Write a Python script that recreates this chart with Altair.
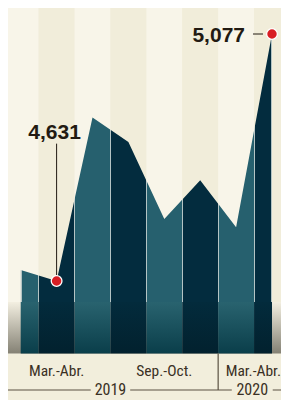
import altair as alt
import pandas as pd

# ---- data ----
periods = ["Ene.-Feb.", "Mar.-Abr.", "May.-Jun.", "Jul.-Ago.",
           "Sep.-Oct.", "Nov.-Dic.", "Ene.-Feb.", "Mar.-Abr."]
years = ["2019", "2019", "2019", "2019", "2019", "2019", "2020", "2020"]
values = [4651, 4631, 4926, 4882, 4743, 4813, 4728, 5077]
shown_labels = [1, 4, 7]       # periods whose label is printed
highlight = [1, 7]             # periods marked with a red dot
year_names = ["2019", "2020"]

# ---- styling ----
TEAL = "#26606e"
DARK = "#032c3e"
LINE_LIGHT = "#b4c4c4"
BG = "#f2eedc"
BAND_A = "#f8f5e9"
BAND_B = "#f1edda"
INK = "#221a12"
LABEL_INK = "#3a3024"
RED = "#d81e24"
BASE = 4500          # bottom of the coloured columns
STRIP_TOP = 4593     # top of the shaded strip at the bottom
Y_MIN, Y_MAX = 4416.1, 5138.4
X_MIN, X_MAX = -0.5766, 7.2507
LABEL_FONT = "Roboto Condensed, Liberation Sans Narrow, Arial Narrow, Roboto, sans-serif"
NUM_FONT = "Liberation Sans, Arial, sans-serif"

xs = alt.Scale(domain=[X_MIN, X_MAX], nice=False, zero=False)
ys = alt.Scale(domain=[Y_MIN, Y_MAX], nice=False, zero=False)

n = len(values)
df = pd.DataFrame({"i": list(range(n)), "v": values, "period": periods,
                   "year": years, "base": [STRIP_TOP] * n})

# background columns
bg = pd.DataFrame({"k": list(range(-1, n + 1))})
bg["lo"] = bg["k"] - 0.5
bg["hi"] = bg["k"] + 0.5
bg["shade"] = ["a" if k % 2 == 0 else "b" for k in bg["k"]]
bg["y0"] = BASE
bg["y1"] = Y_MAX

background = alt.Chart(bg).mark_rect().encode(
    x=alt.X("lo:Q", scale=xs, axis=None), x2="hi:Q",
    y=alt.Y("y0:Q", scale=ys, axis=None), y2="y1:Q",
    color=alt.Color("shade:N", scale=alt.Scale(domain=["a", "b"], range=[BAND_A, BAND_B]), legend=None),
)

# area with alternating column colours (hard-stop gradient) and thin light separators
w = 0.002
stops = [alt.GradientStop(offset=0, color=LINE_LIGHT), alt.GradientStop(offset=2 * w, color=LINE_LIGHT),
         alt.GradientStop(offset=2 * w, color=TEAL)]
for k in range(n - 1):
    b = (k + 0.5) / (n - 1)
    c_cur = TEAL if k % 2 == 0 else DARK
    c_next = TEAL if (k + 1) % 2 == 0 else DARK
    stops += [alt.GradientStop(offset=b - w, color=c_cur), alt.GradientStop(offset=b - w, color=LINE_LIGHT),
              alt.GradientStop(offset=b + w, color=LINE_LIGHT), alt.GradientStop(offset=b + w, color=c_next)]
last = TEAL if (n - 1) % 2 == 0 else DARK
stops += [alt.GradientStop(offset=1 - 2 * w, color=last), alt.GradientStop(offset=1 - 2 * w, color=LINE_LIGHT),
          alt.GradientStop(offset=1, color=LINE_LIGHT)]

area = alt.Chart(df).mark_area(
    fill=alt.Gradient(gradient="linear", x1=0, x2=1, y1=0, y2=0, stops=stops),
    interpolate="linear",
).encode(
    x=alt.X("i:Q", scale=xs, axis=None),
    y=alt.Y("v:Q", scale=ys, axis=None),
    y2="base:Q",
)

# shaded strip at the bottom
strip_bg = pd.DataFrame({"lo": [-1.5], "hi": [n + 0.5], "y0": [BASE], "y1": [STRIP_TOP]})
strip_back = alt.Chart(strip_bg).mark_rect(
    fill=alt.Gradient(gradient="linear", x1=0, x2=0, y1=0, y2=1,
                      stops=[alt.GradientStop(offset=0, color="#f3efe1"),
                             alt.GradientStop(offset=1, color="#848174")])
).encode(x=alt.X("lo:Q", scale=xs, axis=None), x2="hi:Q",
         y=alt.Y("y0:Q", scale=ys, axis=None), y2="y1:Q")

cols = pd.DataFrame({"k": list(range(n))})
cols["lo"] = [max(k - 0.5, 0) for k in cols["k"]]
cols["hi"] = [min(k + 0.5, n - 1) for k in cols["k"]]
cols["y0"] = BASE
cols["y1"] = STRIP_TOP
cols["even"] = cols["k"] % 2 == 0

strip_teal = alt.Chart(cols[cols["even"]]).mark_rect(
    fill=alt.Gradient(gradient="linear", x1=0, x2=0, y1=0, y2=1,
                      stops=[alt.GradientStop(offset=0, color="#29636f"),
                             alt.GradientStop(offset=1, color="#0a3e4a")])
).encode(x=alt.X("lo:Q", scale=xs, axis=None), x2="hi:Q",
         y=alt.Y("y0:Q", scale=ys, axis=None), y2="y1:Q")

strip_dark = alt.Chart(cols[~cols["even"]]).mark_rect(
    fill=alt.Gradient(gradient="linear", x1=0, x2=0, y1=0, y2=1,
                      stops=[alt.GradientStop(offset=0, color="#032b3c"),
                             alt.GradientStop(offset=1, color="#02212e")])
).encode(x=alt.X("lo:Q", scale=xs, axis=None), x2="hi:Q",
         y=alt.Y("y0:Q", scale=ys, axis=None), y2="y1:Q")

# annotations
hl = df[df["i"].isin(highlight)].copy()
first = hl[hl["i"] == highlight[0]].copy()
first["top"] = first["v"] + 248
lastp = hl[hl["i"] == highlight[1]].copy()

lead1 = alt.Chart(first).mark_rule(color=INK, strokeWidth=1).encode(
    x=alt.X("i:Q", scale=xs, axis=None), y=alt.Y("v:Q", scale=ys, axis=None), y2="top:Q")
txt1 = alt.Chart(first).mark_text(font=NUM_FONT, fontWeight="bold", fontSize=21,
                                  color=INK, align="center", baseline="alphabetic", dy=-5, dx=-2).encode(
    x=alt.X("i:Q", scale=xs, axis=None), y=alt.Y("top:Q", scale=ys, axis=None),
    text=alt.Text("v:Q", format=","))

lead2 = alt.Chart(lastp).mark_rule(color=INK, strokeWidth=1, xOffset=-19, x2Offset=-9).encode(
    x=alt.X("i:Q", scale=xs, axis=None), x2="i:Q", y=alt.Y("v:Q", scale=ys, axis=None))
txt2 = alt.Chart(lastp).mark_text(font=NUM_FONT, fontWeight="bold", fontSize=21,
                                  color=INK, align="right", baseline="alphabetic", dx=-27, dy=7.5).encode(
    x=alt.X("i:Q", scale=xs, axis=None), y=alt.Y("v:Q", scale=ys, axis=None),
    text=alt.Text("v:Q", format=","))

dots = alt.Chart(hl).mark_circle(size=115, color=RED, opacity=1, stroke="white", strokeWidth=1.3).encode(
    x=alt.X("i:Q", scale=xs, axis=None), y=alt.Y("v:Q", scale=ys, axis=None))

# x labels
lab = df[df["i"].isin(shown_labels)].copy()
lab["ly"] = 4459.5
lab_mid = lab[lab["i"] != n - 1]
lab_end = lab[lab["i"] == n - 1]
labels_mid = alt.Chart(lab_mid).mark_text(font=LABEL_FONT, fontSize=15.5, color=LABEL_INK,
                                          align="center", baseline="alphabetic").encode(
    x=alt.X("i:Q", scale=xs, axis=None), y=alt.Y("ly:Q", scale=ys, axis=None), text="period:N")
labels_end = alt.Chart(lab_end).mark_text(font=LABEL_FONT, fontSize=15.5, color=LABEL_INK,
                                          align="right", baseline="alphabetic", dx=9).encode(
    x=alt.X("i:Q", scale=xs, axis=None), y=alt.Y("ly:Q", scale=ys, axis=None), text="period:N")

# year brackets
YL = 4434.2
yr = pd.DataFrame({"year": year_names, "c": [2.5, 6.45], "yy": [YL, YL]})
year_text = alt.Chart(yr).mark_text(font=LABEL_FONT, fontSize=16, color=LABEL_INK,
                                    align="center", baseline="alphabetic", dy=5).encode(
    x=alt.X("c:Q", scale=xs, axis=None), y=alt.Y("yy:Q", scale=ys, axis=None), text="year:N")
seg = pd.DataFrame({"a": [-0.5, 3.05, 7.02], "b": [1.95, 5.88, 8.5], "yy": [YL] * 3})
hsegs = alt.Chart(seg).mark_rule(color="#5b5142", strokeWidth=1.2).encode(
    x=alt.X("a:Q", scale=xs, axis=None), x2="b:Q", y=alt.Y("yy:Q", scale=ys, axis=None))
vs = pd.DataFrame({"x": [-0.5, 5.5], "y0": [BASE, BASE], "y1": [YL, YL]})
vsegs = alt.Chart(vs).mark_rule(color="#5b5142", strokeWidth=1.2).encode(
    x=alt.X("x:Q", scale=xs, axis=None), y=alt.Y("y0:Q", scale=ys, axis=None), y2="y1:Q")

chart = alt.layer(
    background, strip_back, area, strip_teal, strip_dark,
    hsegs, vsegs, lead1, lead2, dots, txt1, txt2, labels_mid, labels_end, year_text,
).properties(
    width=281, height=400,
    padding={"left": -8, "top": -8, "right": 0, "bottom": 0},
    autosize=alt.AutoSizeParams(type="none"),
    background=BG,
).configure_view(stroke=None)

chart.save("out.html", embed_options={"renderer": "svg", "actions": False})
